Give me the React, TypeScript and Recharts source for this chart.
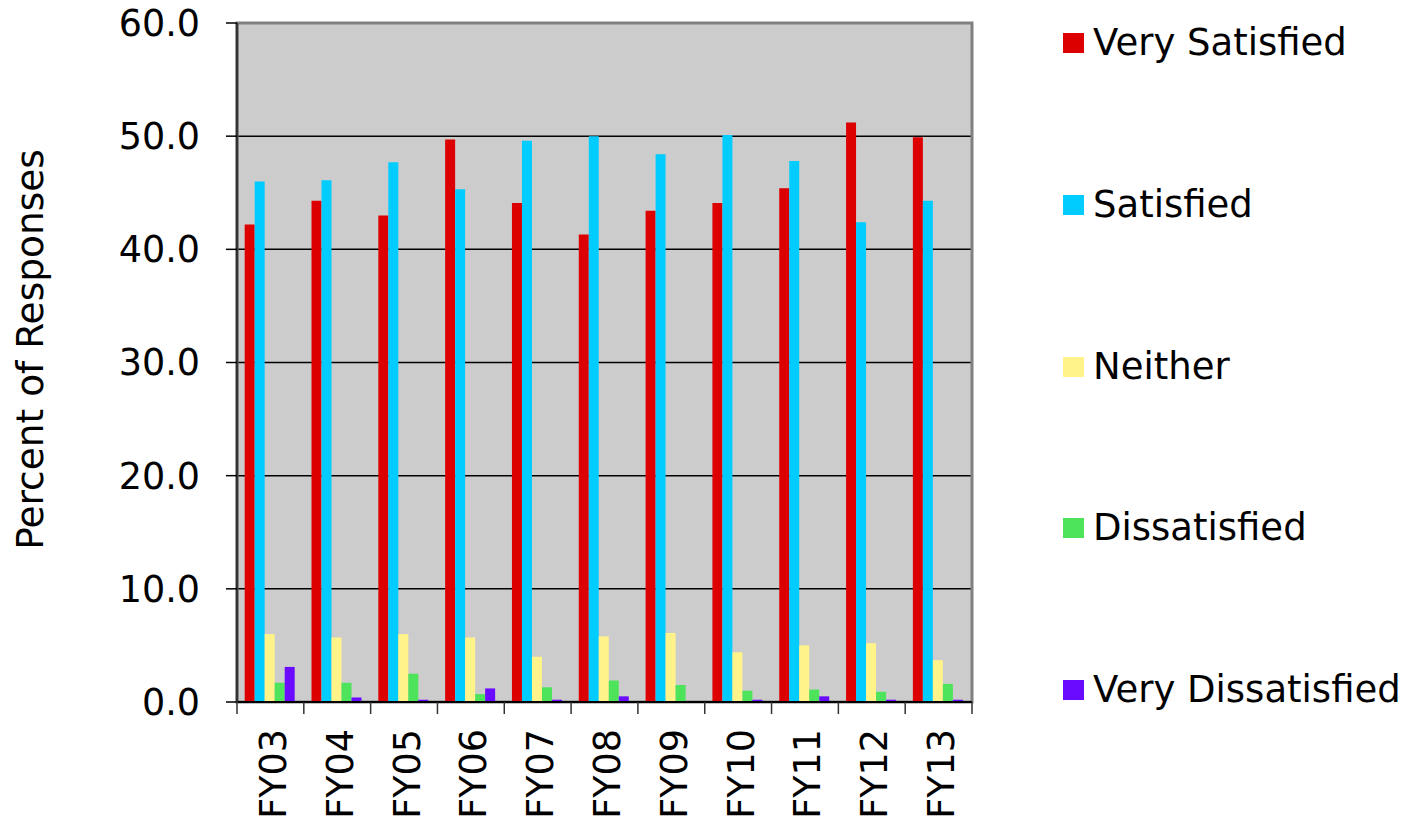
import React from 'react';
import {
  BarChart,
  Bar,
  XAxis,
  YAxis,
  CartesianGrid,
  Legend,
  ReferenceArea,
} from 'recharts';

const categories = ['FY03', 'FY04', 'FY05', 'FY06', 'FY07', 'FY08', 'FY09', 'FY10', 'FY11', 'FY12', 'FY13'];
const verySatisfied = [42.2, 44.3, 43.0, 49.7, 44.1, 41.3, 43.4, 44.1, 45.4, 51.2, 49.9];
const satisfied = [46.0, 46.1, 47.7, 45.3, 49.6, 50.0, 48.4, 50.1, 47.8, 42.4, 44.3];
const neither = [6.0, 5.7, 6.0, 5.7, 4.0, 5.8, 6.1, 4.4, 5.0, 5.2, 3.7];
const dissatisfied = [1.7, 1.7, 2.5, 0.7, 1.3, 1.9, 1.5, 1.0, 1.1, 0.9, 1.6];
const veryDissatisfied = [3.1, 0.4, 0.2, 1.2, 0.2, 0.5, 0.0, 0.2, 0.5, 0.2, 0.2];
const yTicks = [0, 10, 20, 30, 40, 50, 60];

const seriesNames = ['Very Satisfied', 'Satisfied', 'Neither', 'Dissatisfied', 'Very Dissatisfied'];
const seriesKeys = ['vs', 's', 'n', 'd', 'vd'];
const seriesColors = ['#DD0000', '#00CCFF', '#FFF38A', '#4DE35A', '#6A0AFF'];

const data = categories.map((c, i) => ({
  name: c,
  vs: verySatisfied[i],
  s: satisfied[i],
  n: neither[i],
  d: dissatisfied[i],
  vd: veryDissatisfied[i],
}));

const W = 1410;
const H = 821;
const Y_AXIS_W = 237;
const LEGEND_W = 347;
const PLOT_RIGHT_GAP = 438;
const MARGIN = { top: 23, right: PLOT_RIGHT_GAP - LEGEND_W, bottom: 0, left: 0 };
const X_AXIS_H = 119;
const PLOT_W = W - Y_AXIS_W - PLOT_RIGHT_GAP;
const FONT = '"DejaVu Sans", Verdana, sans-serif';
const FS = 36.5;

const XTick = (props: any) => {
  const { x, y, payload, index } = props;
  const band = PLOT_W / categories.length;
  const last = index === categories.length - 1;
  return (
    <g>
      <line x1={x - band / 2} y1={y} x2={x - band / 2} y2={y + 12} stroke="#333" strokeWidth={1.5} />
      {last && <line x1={x + band / 2} y1={y} x2={x + band / 2} y2={y + 12} stroke="#333" strokeWidth={1.5} />}
      <text
        x={0}
        y={0}
        transform={`translate(${x + 3},${y + 27}) rotate(-90)`}
        textAnchor="end"
        dominantBaseline="central"
        fontFamily={FONT}
        fontSize={FS}
        fill="#000"
      >
        {payload.value}
      </text>
    </g>
  );
};

const YLabel = (props: any) => {
  const vb = props.viewBox || { x: 0, y: 23, width: 237, height: 679 };
  const cx = vb.x + 30;
  const cy = vb.y + vb.height / 2 - 13;
  return (
    <text
      x={cx}
      y={cy}
      transform={`rotate(-90, ${cx}, ${cy})`}
      textAnchor="middle"
      dominantBaseline="central"
      fontFamily={FONT}
      fontSize={37.5}
      fill="#000"
    >
      Percent of Responses
    </text>
  );
};

const renderLegend = () => (
  <div style={{ fontFamily: FONT, fontSize: 37, color: '#000' }}>
    {seriesNames.map((nm, i) => (
      <div
        key={nm}
        style={{
          display: 'flex',
          alignItems: 'center',
          height: 40,
          marginTop: i === 0 ? 0 : 121.75,
          whiteSpace: 'nowrap',
        }}
      >
        <span style={{ display: 'inline-block', width: 21, height: 20, background: seriesColors[i], marginRight: 9 }} />
        <span style={{ lineHeight: '40px' }}>{nm}</span>
      </div>
    ))}
  </div>
);

export default function App() {
  return (
    <div style={{ position: 'absolute', left: 0, top: 0, width: W, height: H, background: '#fff' }}>
      <BarChart width={W} height={H} data={data} margin={MARGIN} barCategoryGap="11.5%" barGap={0}>
        <CartesianGrid horizontal vertical={false} stroke="#000" strokeWidth={1.5} fill="#CCCCCC" />
        <ReferenceArea y1={0} y2={60} fill="none" stroke="#808080" strokeWidth={3} ifOverflow="visible" />
        <XAxis
          dataKey="name"
          height={X_AXIS_H}
          tick={<XTick />}
          tickLine={false}
          tickSize={0}
          tickMargin={0}
          interval={0}
          axisLine={{ stroke: '#000', strokeWidth: 2 }}
        />
        <YAxis
          width={Y_AXIS_W}
          domain={[0, 60]}
          ticks={yTicks}
          interval={0}
          tickFormatter={(v: number) => v.toFixed(1)}
          tickSize={11}
          tickMargin={26}
          tick={{ fontFamily: FONT, fontSize: FS, fill: '#000' }}
          tickLine={{ stroke: '#000', strokeWidth: 1.5 }}
          axisLine={{ stroke: '#333', strokeWidth: 2.5 }}
          label={<YLabel />}
        />
        <Legend
          layout="vertical"
          align="right"
          verticalAlign="top"
          content={renderLegend}
          wrapperStyle={{ position: 'absolute', left: 1063, top: 23, width: LEGEND_W }}
        />
        {seriesKeys.map((k, i) => (
          <Bar key={k} dataKey={k} name={seriesNames[i]} fill={seriesColors[i]} isAnimationActive={false} />
        ))}
      </BarChart>
    </div>
  );
}
